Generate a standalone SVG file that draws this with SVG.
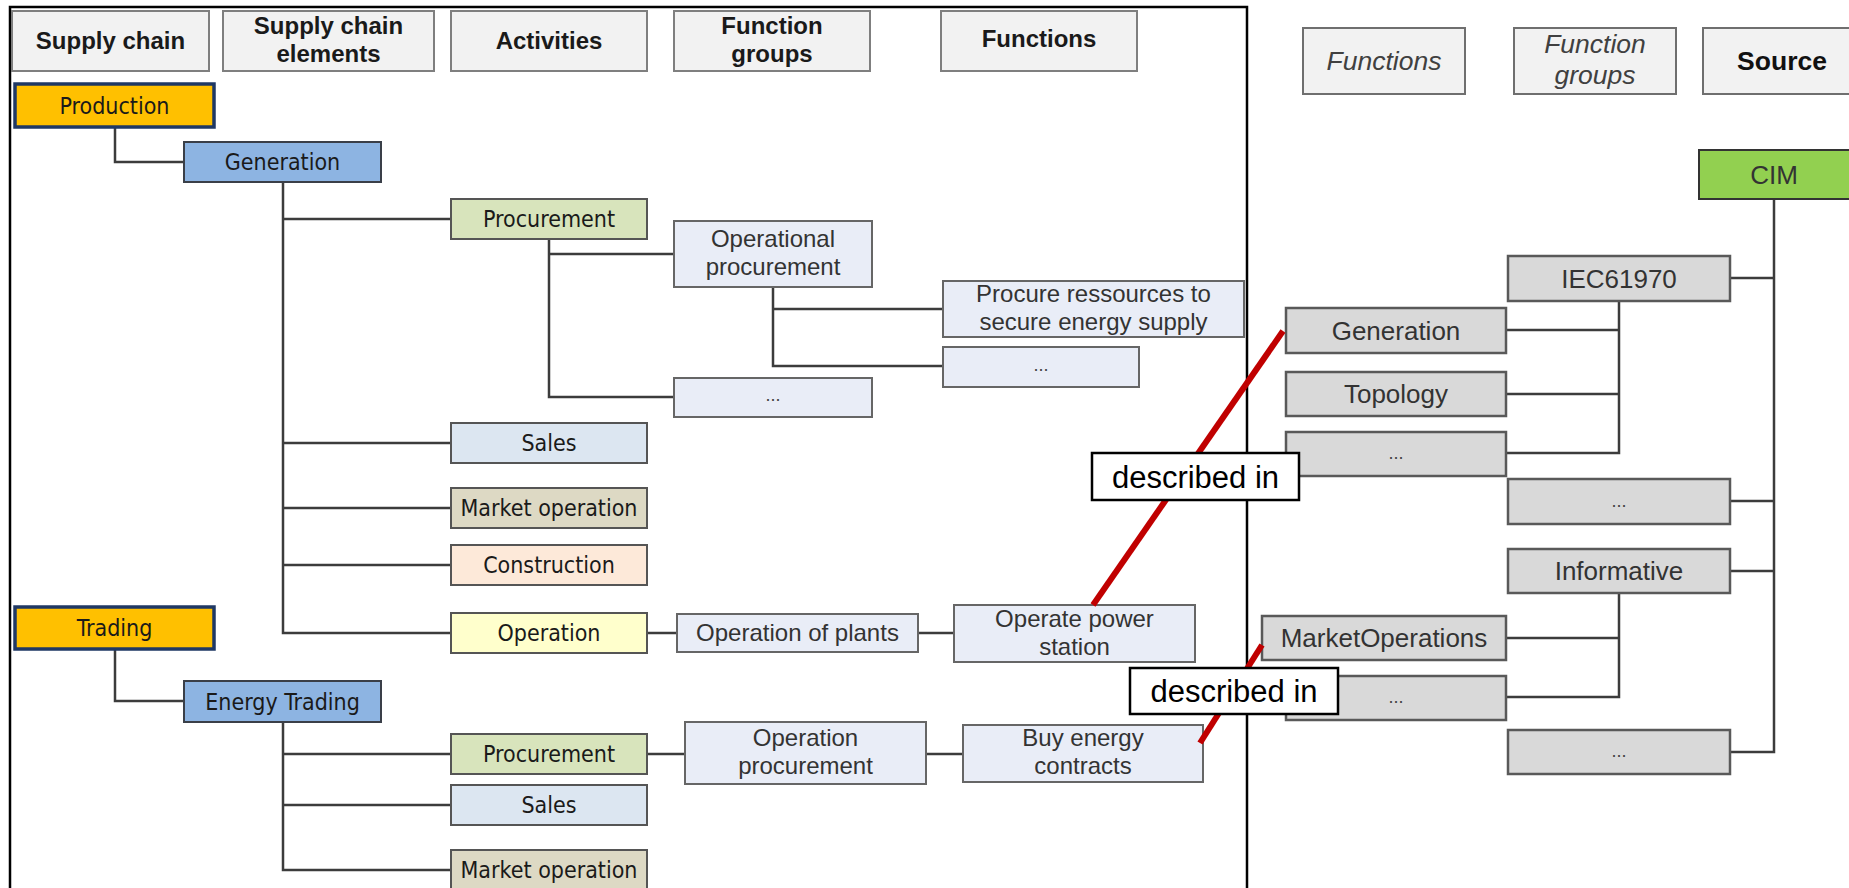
<svg xmlns="http://www.w3.org/2000/svg" width="1849" height="888" viewBox="0 0 1849 888">
<style>
.hdr rect{fill:#F2F2F2;stroke:#7F7F7F;stroke-width:2}
.hdr text{font-family:"Liberation Sans",Arial,sans-serif;font-weight:bold;font-size:24px;fill:#1a1a1a;text-anchor:middle}
.rhdr rect{fill:#F2F2F2;stroke:#6F6F6F;stroke-width:2}
.rhdr text{font-family:"Liberation Sans",Arial,sans-serif;font-size:26.5px;fill:#404040;text-anchor:middle;font-style:italic}
.rhdr text.b{font-style:normal;font-weight:bold;fill:#111}
.tah{font-family:"DejaVu Sans Condensed","DejaVu Sans",sans-serif;font-stretch:condensed;font-size:23px;fill:#1a1a1a;text-anchor:middle}
.ar{font-family:"Liberation Sans",Arial,sans-serif;font-size:24px;fill:#333;text-anchor:middle}
.ar26{font-family:"Liberation Sans",Arial,sans-serif;font-size:26px;fill:#333;text-anchor:middle}
.dots{font-family:"Liberation Sans",Arial,sans-serif;font-size:18px;fill:#444;text-anchor:middle}
.sc rect{fill:#FFC000;stroke:#1F3864;stroke-width:3.5}
.sce rect{fill:#8DB4E2;stroke:#3A3F48;stroke-width:2}
.act rect{stroke:#555;stroke-width:2}
.fg rect{fill:#E9EDF7;stroke:#666;stroke-width:2}
.src rect{fill:#D9D9D9;stroke:#595959;stroke-width:2.5}
.cim rect{fill:#92D050;stroke:#333;stroke-width:2}
#connectors path{fill:none;stroke:#3C3C3C;stroke-width:2.5}
.red{stroke:#C00000;stroke-width:6;fill:none}
.lbl rect{fill:#fff;stroke:#000;stroke-width:2.5}
.lbl text{font-family:"Liberation Sans",Arial,sans-serif;font-size:31px;fill:#000;text-anchor:middle}
</style>

<g id="frame"><path d="M10 900 V7 H1247 V900" fill="none" stroke="#000" stroke-width="2.5"/></g>

<g id="connectors">
<path d="M115 127 V162 H184"/>
<path d="M115 649 V701 H184"/>
<path d="M283 182 V633 H451 M283 219 H451 M283 443 H451 M283 508 H451 M283 565 H451"/>
<path d="M283 722 V870 H451 M283 754 H451 M283 805 H451"/>
<path d="M549 239 V397 H674 M549 254 H674"/>
<path d="M773 287 V366 H943 M773 309 H943"/>
<path d="M647 633 H677 M918 633 H954"/>
<path d="M647 754 H685 M926 754 H963"/>
<path d="M1774 199 V752 H1730 M1730 278 H1774 M1730 501 H1774 M1730 571 H1774"/>
<path d="M1506 330 H1619 V453 H1506 M1506 394 H1619 M1619 301 V330"/>
<path d="M1619 593 V697 H1506 M1506 638 H1619"/>
</g>

<g id="h-supply-chain" class="hdr"><rect x="12" y="11" width="197" height="60"/><text x="110.5" y="49">Supply chain</text></g>
<g id="h-sc-elements" class="hdr"><rect x="223" y="11" width="211" height="60"/><text x="328.5" y="34">Supply chain</text><text x="328.5" y="62">elements</text></g>
<g id="h-activities" class="hdr"><rect x="451" y="11" width="196" height="60"/><text x="549" y="49">Activities</text></g>
<g id="h-function-groups" class="hdr"><rect x="674" y="11" width="196" height="60"/><text x="772" y="34">Function</text><text x="772" y="62">groups</text></g>
<g id="h-functions" class="hdr"><rect x="941" y="11" width="196" height="60"/><text x="1039" y="47">Functions</text></g>

<g id="production" class="sc"><rect x="15" y="84" width="199" height="43"/><text class="tah" x="114.5" y="114">Production</text></g>
<g id="generation" class="sce"><rect x="184" y="142" width="197" height="40"/><text class="tah" x="282.5" y="170">Generation</text></g>
<g id="gen-procurement" class="act"><rect x="451" y="199" width="196" height="40" fill="#D8E4BC"/><text class="tah" x="549" y="227">Procurement</text></g>
<g id="gen-sales" class="act"><rect x="451" y="423" width="196" height="40" fill="#DCE6F1"/><text class="tah" x="549" y="451">Sales</text></g>
<g id="gen-market-operation" class="act"><rect x="451" y="488" width="196" height="40" fill="#DDD9C4"/><text class="tah" x="549" y="516">Market operation</text></g>
<g id="gen-construction" class="act"><rect x="451" y="545" width="196" height="40" fill="#FDE9D9"/><text class="tah" x="549" y="573">Construction</text></g>
<g id="gen-operation" class="act"><rect x="451" y="613" width="196" height="40" fill="#FFFFCC"/><text class="tah" x="549" y="641">Operation</text></g>

<g id="operational-procurement" class="fg"><rect x="674" y="221" width="198" height="66"/><text class="ar" x="773" y="247">Operational</text><text class="ar" x="773" y="275">procurement</text></g>
<g id="fg-dots-1" class="fg"><rect x="674" y="378" width="198" height="39"/><text class="dots" x="773" y="401">...</text></g>
<g id="procure-ressources" class="fg"><rect x="943" y="281" width="301" height="56"/><text class="ar" x="1093.5" y="302">Procure ressources to</text><text class="ar" x="1093.5" y="330">secure energy supply</text></g>
<g id="fn-dots-1" class="fg"><rect x="943" y="347" width="196" height="40"/><text class="dots" x="1041" y="371">...</text></g>
<g id="operation-of-plants" class="fg"><rect x="677" y="614" width="241" height="38"/><text class="ar" x="797.5" y="641">Operation of plants</text></g>
<g id="operate-power-station" class="fg"><rect x="954" y="605" width="241" height="57"/><text class="ar" x="1074.5" y="627">Operate power</text><text class="ar" x="1074.5" y="655">station</text></g>

<g id="trading" class="sc"><rect x="15" y="607" width="199" height="42"/><text class="tah" x="114.5" y="636">Trading</text></g>
<g id="energy-trading" class="sce"><rect x="184" y="681" width="197" height="41"/><text class="tah" x="282.5" y="710">Energy Trading</text></g>
<g id="et-procurement" class="act"><rect x="451" y="734" width="196" height="40" fill="#D8E4BC"/><text class="tah" x="549" y="762">Procurement</text></g>
<g id="et-sales" class="act"><rect x="451" y="785" width="196" height="40" fill="#DCE6F1"/><text class="tah" x="549" y="813">Sales</text></g>
<g id="et-market-operation" class="act"><rect x="451" y="850" width="196" height="45" fill="#DDD9C4"/><text class="tah" x="549" y="878">Market operation</text></g>
<g id="operation-procurement" class="fg"><rect x="685" y="722" width="241" height="62"/><text class="ar" x="805.5" y="746">Operation</text><text class="ar" x="805.5" y="774">procurement</text></g>
<g id="buy-energy-contracts" class="fg"><rect x="963" y="725" width="240" height="57"/><text class="ar" x="1083" y="746">Buy energy</text><text class="ar" x="1083" y="774">contracts</text></g>

<g id="rh-functions" class="rhdr"><rect x="1303" y="28" width="162" height="66"/><text x="1384" y="70">Functions</text></g>
<g id="rh-function-groups" class="rhdr"><rect x="1514" y="28" width="162" height="66"/><text x="1595" y="53">Function</text><text x="1595" y="84">groups</text></g>
<g id="rh-source" class="rhdr"><rect x="1703" y="28" width="160" height="66"/><text class="b" x="1782" y="70">Source</text></g>

<g id="cim" class="cim"><rect x="1699" y="150" width="160" height="49"/><text class="ar26" x="1774" y="184" fill="#222">CIM</text></g>
<g id="iec61970" class="src"><rect x="1508" y="256" width="222" height="45"/><text class="ar26" x="1619" y="288">IEC61970</text></g>
<g id="r-generation" class="src"><rect x="1286" y="308" width="220" height="45"/><text class="ar26" x="1396" y="340">Generation</text></g>
<g id="r-topology" class="src"><rect x="1286" y="372" width="220" height="44"/><text class="ar26" x="1396" y="403">Topology</text></g>
<g id="r-dots-1" class="src"><rect x="1286" y="432" width="220" height="44"/><text class="dots" x="1396" y="459">...</text></g>
<g id="r-fg-dots-1" class="src"><rect x="1508" y="479" width="222" height="45"/><text class="dots" x="1619" y="507">...</text></g>
<g id="informative" class="src"><rect x="1508" y="549" width="222" height="44"/><text class="ar26" x="1619" y="580">Informative</text></g>
<g id="market-operations" class="src"><rect x="1262" y="616" width="244" height="44"/><text class="ar26" x="1384" y="647">MarketOperations</text></g>
<g id="r-dots-2" class="src"><rect x="1286" y="676" width="220" height="44"/><text class="dots" x="1396" y="703">...</text></g>
<g id="r-fg-dots-2" class="src"><rect x="1508" y="730" width="222" height="44"/><text class="dots" x="1619" y="757">...</text></g>

<g id="described-in-links">
<path class="red" d="M1283 331 L1093 605"/>
<path class="red" d="M1262 645 L1200 743"/>
</g>
<g id="label-described-1" class="lbl"><rect x="1092" y="453" width="207" height="47"/><text x="1195.5" y="488">described in</text></g>
<g id="label-described-2" class="lbl"><rect x="1130" y="668" width="208" height="46"/><text x="1234" y="702">described in</text></g>
</svg>
